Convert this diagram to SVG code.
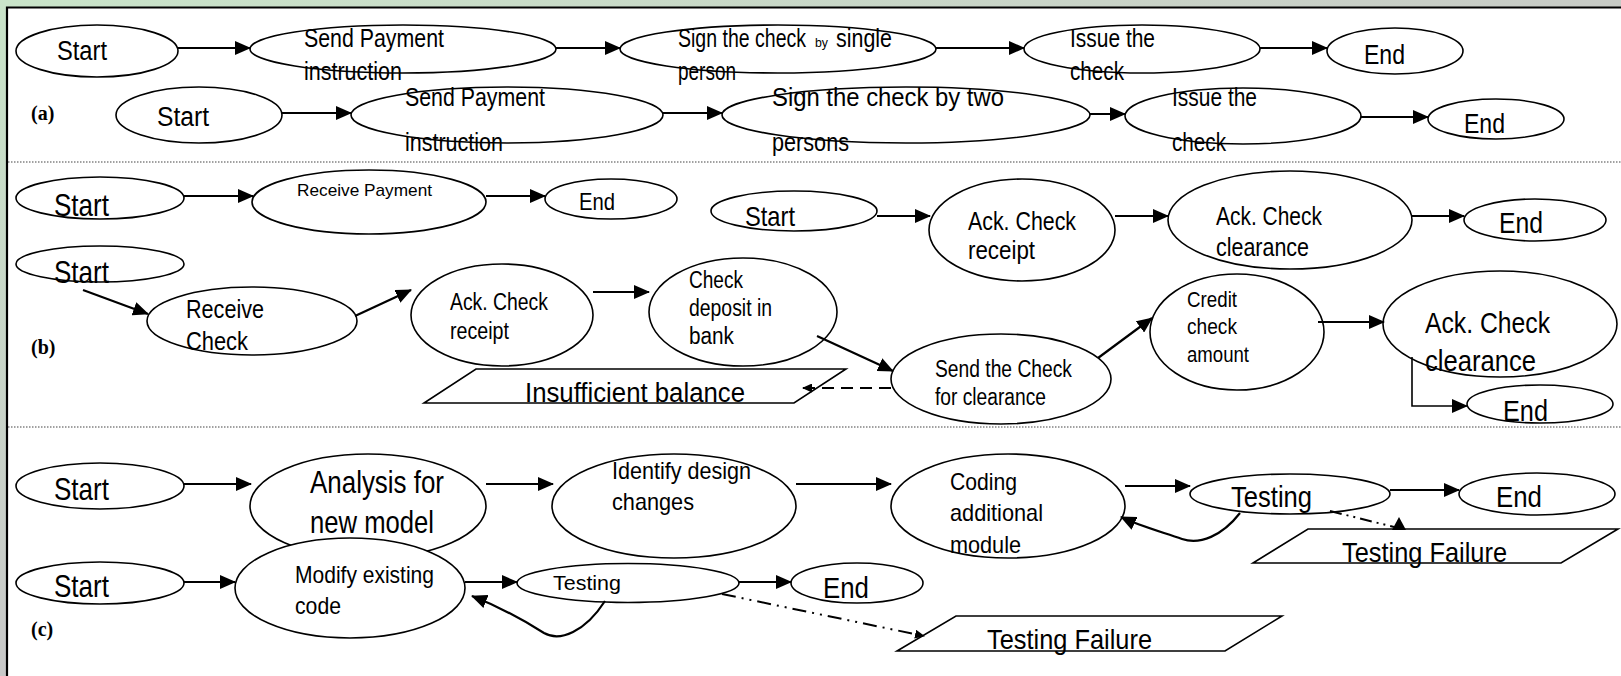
<svg xmlns="http://www.w3.org/2000/svg" width="1621" height="676" viewBox="0 0 1621 676">
<defs>
<linearGradient id="gTop" x1="0" y1="0" x2="1" y2="0"><stop offset="0" stop-color="#c9e4c9"/><stop offset="1" stop-color="#c8cbc6"/></linearGradient>
<linearGradient id="gLeft" x1="0" y1="0" x2="0" y2="1"><stop offset="0" stop-color="#c9e4c9"/><stop offset="1" stop-color="#c8c8c8"/></linearGradient>
<marker id="ah" markerUnits="userSpaceOnUse" markerWidth="16" markerHeight="14" refX="15" refY="7" orient="auto"><path d="M0,0 L16,7 L0,14 z" fill="#000"/></marker>
<marker id="ahs" markerUnits="userSpaceOnUse" markerWidth="10" markerHeight="9" refX="9" refY="4.5" orient="auto"><path d="M0,0 L10,4.5 L0,9 z" fill="#000"/></marker>
<style>
.n{fill:#fff;stroke:#000;stroke-width:1.6}
.c{fill:none;stroke:#000;stroke-width:2.2;marker-end:url(#ah)}
.sep{stroke:#444;stroke-width:1.2;stroke-dasharray:1.5 1.5}
text{font-family:"Liberation Sans Narrow","Liberation Sans",Arial,sans-serif;fill:#000}
.lab{font-family:"Liberation Serif","Times New Roman",serif;font-weight:bold;font-size:20px}
</style>
</defs>
<rect x="0" y="0" width="1621" height="676" fill="#fff"/>
<rect x="0" y="0" width="1621" height="7" fill="url(#gTop)"/>
<rect x="0" y="0" width="7" height="676" fill="url(#gLeft)"/>
<path d="M7,676 V7.5 H1621" fill="none" stroke="#000" stroke-width="2.2"/>
<line class="sep" x1="8" y1="162" x2="1621" y2="162"/>
<line class="sep" x1="8" y1="427" x2="1621" y2="427"/>
<text class="lab" x="31" y="120">(a)</text>
<text class="lab" x="31" y="354">(b)</text>
<text class="lab" x="31" y="636">(c)</text>

<g id="a1-start"><ellipse class="n" cx="97" cy="51" rx="81" ry="26"/><text x="57" y="60" font-size="27" textLength="50" lengthAdjust="spacingAndGlyphs">Start</text></g>
<g id="a1-send"><ellipse class="n" cx="403" cy="49" rx="153" ry="24"/><text x="304" y="47" font-size="25" textLength="140" lengthAdjust="spacingAndGlyphs">Send Payment</text><text x="304" y="80" font-size="25" textLength="98" lengthAdjust="spacingAndGlyphs">instruction</text></g>
<g id="a1-sign"><ellipse class="n" cx="778" cy="49" rx="158" ry="24"/><text x="678" y="47" font-size="25" textLength="128" lengthAdjust="spacingAndGlyphs">Sign the check</text><text x="815" y="47" font-size="13" textLength="13" lengthAdjust="spacingAndGlyphs">by</text><text x="836" y="47" font-size="25" textLength="56" lengthAdjust="spacingAndGlyphs">single</text><text x="678" y="80" font-size="25" textLength="58" lengthAdjust="spacingAndGlyphs">person</text></g>
<g id="a1-issue"><ellipse class="n" cx="1142" cy="49" rx="118" ry="24"/><text x="1070" y="47" font-size="25" textLength="85" lengthAdjust="spacingAndGlyphs">Issue the</text><text x="1070" y="80" font-size="25" textLength="54" lengthAdjust="spacingAndGlyphs">check</text></g>
<g id="a1-end"><ellipse class="n" cx="1395" cy="51" rx="68" ry="23"/><text x="1364" y="64" font-size="28" textLength="41" lengthAdjust="spacingAndGlyphs">End</text></g>

<g id="a2-start"><ellipse class="n" cx="199" cy="115" rx="83" ry="28"/><text x="157" y="126" font-size="27" textLength="52" lengthAdjust="spacingAndGlyphs">Start</text></g>
<g id="a2-send"><ellipse class="n" cx="507" cy="115" rx="156" ry="28"/><text x="405" y="106" font-size="25" textLength="140" lengthAdjust="spacingAndGlyphs">Send Payment</text><text x="405" y="151" font-size="25" textLength="98" lengthAdjust="spacingAndGlyphs">instruction</text></g>
<g id="a2-sign"><ellipse class="n" cx="906" cy="115" rx="184" ry="28"/><text x="772" y="106" font-size="25" textLength="232" lengthAdjust="spacingAndGlyphs">Sign the check by two</text><text x="772" y="151" font-size="25" textLength="77" lengthAdjust="spacingAndGlyphs">persons</text></g>
<g id="a2-issue"><ellipse class="n" cx="1243" cy="116" rx="118" ry="28"/><text x="1172" y="106" font-size="25" textLength="85" lengthAdjust="spacingAndGlyphs">Issue the</text><text x="1172" y="151" font-size="25" textLength="54" lengthAdjust="spacingAndGlyphs">check</text></g>
<g id="a2-end"><ellipse class="n" cx="1496" cy="119" rx="68" ry="20"/><text x="1464" y="133" font-size="28" textLength="41" lengthAdjust="spacingAndGlyphs">End</text></g>

<g id="b1-start"><ellipse class="n" cx="100" cy="198" rx="84" ry="21"/><text x="54" y="216" font-size="32" textLength="55" lengthAdjust="spacingAndGlyphs">Start</text></g>
<g id="b1-receive"><ellipse class="n" cx="369" cy="202" rx="117" ry="32"/><text x="297" y="196" font-size="17" textLength="135" lengthAdjust="spacingAndGlyphs">Receive Payment</text></g>
<g id="b1-end"><ellipse class="n" cx="611" cy="199" rx="66" ry="20"/><text x="579" y="210" font-size="24" textLength="36" lengthAdjust="spacingAndGlyphs">End</text></g>
<g id="b1r-start"><ellipse class="n" cx="794" cy="211" rx="83" ry="20"/><text x="745" y="226" font-size="28" textLength="50" lengthAdjust="spacingAndGlyphs">Start</text></g>
<g id="b1r-ackreceipt"><ellipse class="n" cx="1022" cy="230" rx="93" ry="51"/><text x="968" y="230" font-size="26" textLength="108" lengthAdjust="spacingAndGlyphs">Ack. Check</text><text x="968" y="259" font-size="26" textLength="67" lengthAdjust="spacingAndGlyphs">receipt</text></g>
<g id="b1r-ackclear"><ellipse class="n" cx="1290" cy="220" rx="122" ry="49"/><text x="1216" y="225" font-size="26" textLength="106" lengthAdjust="spacingAndGlyphs">Ack. Check</text><text x="1216" y="256" font-size="26" textLength="93" lengthAdjust="spacingAndGlyphs">clearance</text></g>
<g id="b1r-end"><ellipse class="n" cx="1535" cy="220" rx="71" ry="21"/><text x="1499" y="233" font-size="30" textLength="44" lengthAdjust="spacingAndGlyphs">End</text></g>

<g id="b2-start"><ellipse class="n" cx="100" cy="264" rx="84" ry="18"/><text x="54" y="283" font-size="32" textLength="55" lengthAdjust="spacingAndGlyphs">Start</text></g>
<g id="b2-receive"><ellipse class="n" cx="252" cy="321" rx="105" ry="34"/><text x="186" y="318" font-size="25" textLength="78" lengthAdjust="spacingAndGlyphs">Receive</text><text x="186" y="350" font-size="25" textLength="62" lengthAdjust="spacingAndGlyphs">Check</text></g>
<g id="b2-ackreceipt"><ellipse class="n" cx="502" cy="315" rx="91" ry="51"/><text x="450" y="310" font-size="23.5" textLength="98" lengthAdjust="spacingAndGlyphs">Ack. Check</text><text x="450" y="339" font-size="23.5" textLength="59" lengthAdjust="spacingAndGlyphs">receipt</text></g>
<g id="b2-deposit"><ellipse class="n" cx="743" cy="312" rx="94" ry="54"/><text x="689" y="288" font-size="23.5" textLength="54" lengthAdjust="spacingAndGlyphs">Check</text><text x="689" y="316" font-size="23.5" textLength="83" lengthAdjust="spacingAndGlyphs">deposit in</text><text x="689" y="344" font-size="23.5" textLength="45" lengthAdjust="spacingAndGlyphs">bank</text></g>
<g id="b2-send"><ellipse class="n" cx="1001" cy="379" rx="110" ry="45"/><text x="935" y="377" font-size="23.5" textLength="137" lengthAdjust="spacingAndGlyphs">Send the Check</text><text x="935" y="405" font-size="23.5" textLength="111" lengthAdjust="spacingAndGlyphs">for clearance</text></g>
<g id="b2-credit"><ellipse class="n" cx="1237" cy="332" rx="87" ry="58"/><text x="1187" y="307" font-size="22" textLength="50" lengthAdjust="spacingAndGlyphs">Credit</text><text x="1187" y="334" font-size="22" textLength="50" lengthAdjust="spacingAndGlyphs">check</text><text x="1187" y="362" font-size="22" textLength="62" lengthAdjust="spacingAndGlyphs">amount</text></g>
<g id="b2-ackclear"><ellipse class="n" cx="1500" cy="324" rx="117" ry="53"/><text x="1425" y="333" font-size="30" textLength="125" lengthAdjust="spacingAndGlyphs">Ack. Check</text><text x="1425" y="371" font-size="30" textLength="111" lengthAdjust="spacingAndGlyphs">clearance</text></g>
<g id="b2-end"><ellipse class="n" cx="1540" cy="404" rx="73" ry="19"/><text x="1503" y="421" font-size="30" textLength="45" lengthAdjust="spacingAndGlyphs">End</text></g>
<g id="b2-insufficient"><polygon class="n" points="476,369 846,369 794,403 424,403"/><text x="525" y="402" font-size="27" textLength="220" lengthAdjust="spacingAndGlyphs">Insufficient balance</text></g>

<g id="c1-start"><ellipse class="n" cx="100" cy="486" rx="84" ry="23"/><text x="54" y="500" font-size="32" textLength="55" lengthAdjust="spacingAndGlyphs">Start</text></g>
<g id="c1-analysis"><ellipse class="n" cx="368" cy="506" rx="118" ry="52"/><text x="310" y="493" font-size="32" textLength="134" lengthAdjust="spacingAndGlyphs">Analysis for</text><text x="310" y="533" font-size="32" textLength="124" lengthAdjust="spacingAndGlyphs">new model</text></g>
<g id="c1-identify"><ellipse class="n" cx="674" cy="506" rx="122" ry="52"/><text x="612" y="479" font-size="24" textLength="139" lengthAdjust="spacingAndGlyphs">Identify design</text><text x="612" y="510" font-size="24" textLength="82" lengthAdjust="spacingAndGlyphs">changes</text></g>
<g id="c1-coding"><ellipse class="n" cx="1008" cy="506" rx="117" ry="52"/><text x="950" y="490" font-size="24" textLength="67" lengthAdjust="spacingAndGlyphs">Coding</text><text x="950" y="521" font-size="24" textLength="93" lengthAdjust="spacingAndGlyphs">additional</text><text x="950" y="553" font-size="24" textLength="71" lengthAdjust="spacingAndGlyphs">module</text></g>
<g id="c1-testing"><ellipse class="n" cx="1290" cy="494" rx="100" ry="20"/><text x="1231" y="507" font-size="30" textLength="81" lengthAdjust="spacingAndGlyphs">Testing</text></g>
<g id="c1-end"><ellipse class="n" cx="1537" cy="494" rx="78" ry="21"/><text x="1496" y="507" font-size="30" textLength="46" lengthAdjust="spacingAndGlyphs">End</text></g>
<g id="c1-failure"><polygon class="n" points="1308,529 1618,529 1561,563 1253,563"/><text x="1342" y="562" font-size="28" textLength="165" lengthAdjust="spacingAndGlyphs">Testing Failure</text></g>

<g id="c2-start"><ellipse class="n" cx="100" cy="583" rx="84" ry="21"/><text x="54" y="597" font-size="32" textLength="55" lengthAdjust="spacingAndGlyphs">Start</text></g>
<g id="c2-modify"><ellipse class="n" cx="350" cy="588" rx="115" ry="50"/><text x="295" y="583" font-size="24" textLength="139" lengthAdjust="spacingAndGlyphs">Modify existing</text><text x="295" y="614" font-size="24" textLength="46" lengthAdjust="spacingAndGlyphs">code</text></g>
<g id="c2-testing"><ellipse class="n" cx="628" cy="583" rx="111" ry="19.5"/><text x="553" y="590" font-size="21" textLength="68" lengthAdjust="spacingAndGlyphs">Testing</text></g>
<g id="c2-end"><ellipse class="n" cx="857" cy="583" rx="66" ry="20"/><text x="823" y="598" font-size="30" textLength="46" lengthAdjust="spacingAndGlyphs">End</text></g>
<g id="c2-failure"><polygon class="n" points="956,616 1282,616 1225,651 897,651"/><text x="987" y="649" font-size="28" textLength="165" lengthAdjust="spacingAndGlyphs">Testing Failure</text></g>

<g id="connectors">
<line class="c" x1="178" y1="48" x2="250" y2="48"/>
<line class="c" x1="556" y1="48" x2="620" y2="48"/>
<line class="c" x1="936" y1="48" x2="1024" y2="48"/>
<line class="c" x1="1260" y1="48" x2="1327" y2="48"/>
<line class="c" x1="282" y1="113" x2="351" y2="113"/>
<line class="c" x1="663" y1="113" x2="722" y2="113"/>
<line class="c" x1="1090" y1="114" x2="1125" y2="114"/>
<line class="c" x1="1361" y1="117" x2="1428" y2="117"/>
<line class="c" x1="184" y1="196" x2="253" y2="196"/>
<line class="c" x1="486" y1="196" x2="545" y2="196"/>
<line class="c" x1="877" y1="216" x2="930" y2="216"/>
<line class="c" x1="1115" y1="216" x2="1168" y2="216"/>
<line class="c" x1="1412" y1="216" x2="1464" y2="216"/>
<line class="c" x1="83" y1="290" x2="148" y2="314"/>
<line class="c" x1="355" y1="316" x2="411" y2="290"/>
<line class="c" x1="593" y1="292" x2="649" y2="292"/>
<line class="c" x1="817" y1="336" x2="893" y2="371"/>
<line class="c" x1="1098" y1="358" x2="1152" y2="318"/>
<line class="c" x1="1318" y1="322" x2="1384" y2="322"/>
<path d="M1412,357 V406 H1467" fill="none" stroke="#000" stroke-width="1.6" marker-end="url(#ah)"/>
<line x1="891" y1="388" x2="803" y2="388" fill="none" stroke="#000" stroke-width="2" stroke-dasharray="12 7" marker-end="url(#ahs)"/>
<line class="c" x1="184" y1="484" x2="251" y2="484"/>
<line class="c" x1="486" y1="484" x2="553" y2="484"/>
<line class="c" x1="796" y1="484" x2="891" y2="484"/>
<line class="c" x1="1125" y1="486" x2="1190" y2="486"/>
<line class="c" x1="1390" y1="490" x2="1459" y2="490"/>
<path class="c" d="M1240,513 C1222,536 1200,545 1182,539 C1162,532 1140,526 1121,517"/>
<line x1="1330" y1="511" x2="1394" y2="527" stroke="#000" stroke-width="2" stroke-dasharray="12 5 2 5 2 5"/>
<polygon points="1399,517 1392,530 1406,530" fill="#000"/>
<line class="c" x1="184" y1="582" x2="235" y2="582"/>
<line class="c" x1="465" y1="582" x2="517" y2="582"/>
<line class="c" x1="739" y1="582" x2="791" y2="582"/>
<path class="c" d="M605,601 C585,632 560,642 544,633 C525,621 500,607 472,596"/>
<line x1="722" y1="594" x2="924" y2="636" stroke="#000" stroke-width="2" stroke-dasharray="14 6 2 6 2 6" marker-end="url(#ahs)"/>
</g>
</svg>
